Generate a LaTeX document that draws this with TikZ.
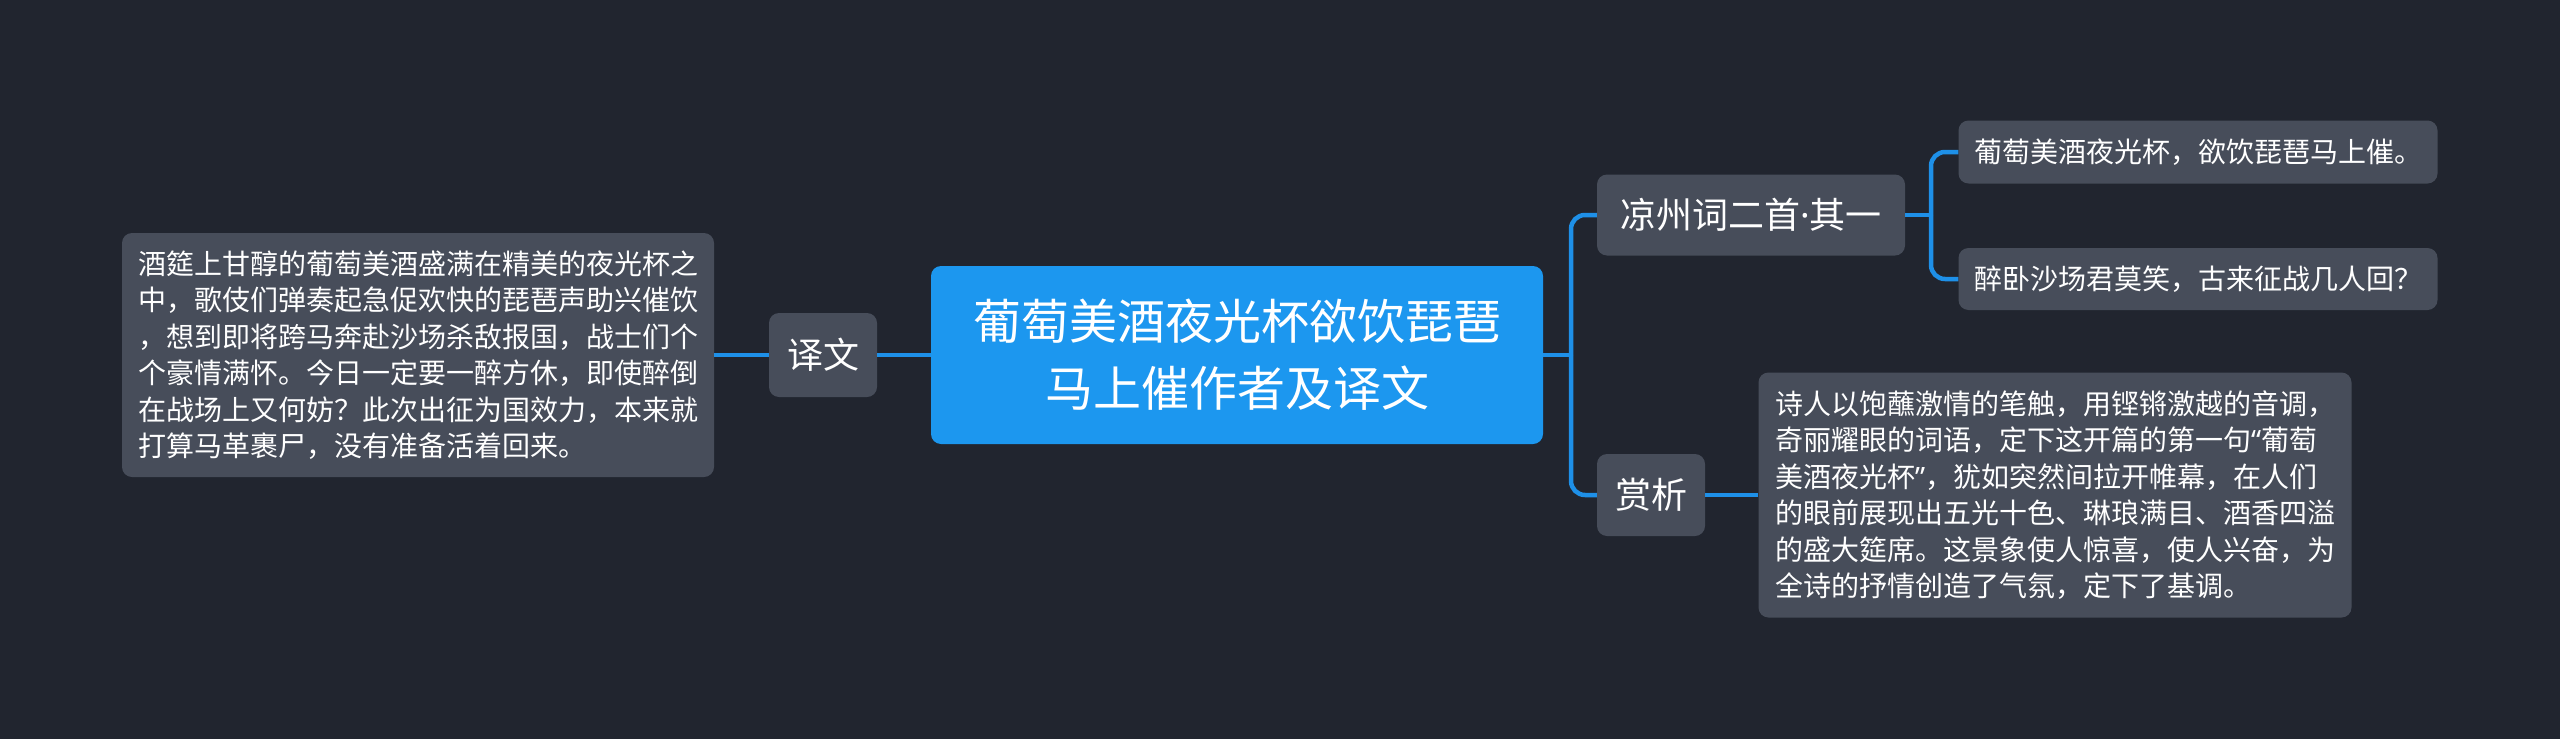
\documentclass[tikz,border=0pt]{standalone}
\usepackage{fontspec}
\setmainfont{Noto Sans CJK SC}
\newfontfamily\latinfont{Noto Sans}
\definecolor{bg}{HTML}{21252F}
\definecolor{nodegrey}{HTML}{474D5A}
\definecolor{mainblue}{HTML}{1C97EF}
\definecolor{lineblue}{HTML}{1E90E8}
\begin{document}
\begin{tikzpicture}[x=1pt,y=-1pt,
  box/.style={fill=nodegrey, rounded corners=10pt, text=white, inner sep=0pt, align=center},
  rootbox/.style={box, fill=mainblue},
  longtext/.style={box, align=left, font=\fontsize{28pt}{36.5pt}\selectfont},
  midtext/.style={box, font=\fontsize{36pt}{42pt}\selectfont},
  leaftext/.style={box, font=\fontsize{28pt}{34pt}\selectfont},
  conn/.style={draw=lineblue, line width=4.5pt, rounded corners=14pt}]
\fill[bg] (0,0) rectangle (2560,739);
\useasboundingbox (0,0) rectangle (2560,739);

\node[rootbox, minimum width=612pt, minimum height=178pt, font=\fontsize{48pt}{67pt}\selectfont] (root) at (1237,355)
  {葡萄美酒夜光杯欲饮琵琶\\马上催作者及译文};

\node[midtext, minimum width=108pt, minimum height=84pt] (yw) at (823,355) {译文};
\node[longtext, minimum width=592pt, minimum height=244pt] (ywt) at (418,355)
  {酒筵上甘醇的葡萄美酒盛满在精美的夜光杯之\\
   中，歌伎们弹奏起急促欢快的琵琶声助兴催饮\\
   ，想到即将跨马奔赴沙场杀敌报国，战士们个\\
   个豪情满怀。今日一定要一醉方休，即使醉倒\\
   在战场上又何妨？此次出征为国效力，本来就\\
   打算马革裹尸，没有准备活着回来。};

\node[midtext, minimum width=308pt, minimum height=81pt] (lz) at (1751,215) {凉州词二首{\latinfont ·}其一};
\node[leaftext, minimum width=479pt, minimum height=63pt] (l1) at (2198,152) {葡萄美酒夜光杯，欲饮琵琶马上催。};
\node[leaftext, minimum width=479pt, minimum height=62pt] (l2) at (2198,279) {醉卧沙场君莫笑，古来征战几人回？};

\node[midtext, minimum width=108pt, minimum height=82pt] (sx) at (1651,495) {赏析};
\node[longtext, minimum width=593pt, minimum height=245pt] (sxt) at (2055,495)
  {诗人以饱蘸激情的笔触，用铿锵激越的音调，\\
   奇丽耀眼的词语，定下这开篇的第一句{\latinfont “}葡萄\\
   美酒夜光杯{\latinfont ”}，犹如突然间拉开帷幕，在人们\\
   的眼前展现出五光十色、琳琅满目、酒香四溢\\
   的盛大筵席。这景象使人惊喜，使人兴奋，为\\
   全诗的抒情创造了气氛，定下了基调。};

\coordinate (b1) at (1571,355);
\coordinate (b2) at (1931,215);

\draw[conn] (root.west) -- (yw.east);
\draw[conn] (yw.west) -- (ywt.east);
\draw[conn] (root.east) -- (b1);
\draw[conn] (b1) |- (lz.west);
\draw[conn] (b1) |- (sx.west);
\draw[conn] (lz.east) -- (b2);
\draw[conn] (b2) |- (l1.west);
\draw[conn] (b2) |- (l2.west);
\draw[conn] (sx.east) -- (sxt.west);
\end{tikzpicture}
\end{document}
